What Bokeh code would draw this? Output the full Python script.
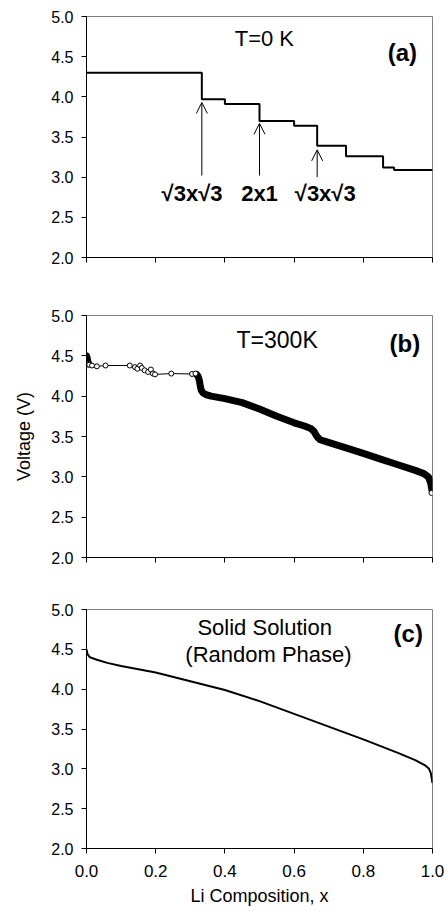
from bokeh.plotting import figure
from bokeh.layouts import column
from bokeh.models import (Label, Arrow, OpenHead, FixedTicker, Range1d,
                          ColumnDataSource, NumeralTickFormatter)
from bokeh.core.properties import value
from bokeh.embed import file_html
from bokeh.resources import INLINE

FONT = "Liberation Sans"

# ---------------- data ----------------
x_ticks = [0.0, 0.2, 0.4, 0.6, 0.8, 1.0]
y_ticks = [2.0, 2.5, 3.0, 3.5, 4.0, 4.5, 5.0]

# (a) T = 0 K : step voltage profile (x where each step starts, voltage)
a_x = [0.0, 1/3, 0.40, 0.50, 0.60, 2/3, 0.75, 6/7, 8/9, 1.0]
a_v = [4.30, 3.97, 3.91, 3.70, 3.64, 3.39, 3.26, 3.12, 3.09, 3.09]
arrow_x = [1/3, 0.5, 2/3]
arrow_tail = [3.02, 3.02, 3.00]
arrow_tip = [3.93, 3.67, 3.34]
phase_labels = ["\u221a3x\u221a3", "2x1", "\u221a3x\u221a3"]

# (b) T = 300 K : Monte Carlo points
b_start_x = [0.000, 0.002, 0.004, 0.006]
b_start_v = [4.50, 4.47, 4.43, 4.40]
b_sparse_x = [0.000, 0.008, 0.016, 0.030, 0.055, 0.125, 0.140, 0.147, 0.155,
              0.160, 0.168, 0.178, 0.186, 0.192, 0.198, 0.245, 0.305, 0.315]
b_sparse_v = [4.40, 4.39, 4.38, 4.37, 4.38, 4.38, 4.36, 4.34, 4.38,
              4.35, 4.32, 4.30, 4.33, 4.28, 4.27, 4.28, 4.275, 4.28]
b_dense_x = [0.318, 0.322, 0.326, 0.329, 0.332, 0.337, 0.345, 0.36, 0.40, 0.45,
             0.50, 0.55, 0.60, 0.63, 0.648, 0.658, 0.666, 0.675, 0.69, 0.75,
             0.80, 0.85, 0.90, 0.95, 0.975, 0.988, 0.995, 0.998]
b_dense_v = [4.27, 4.25, 4.20, 4.12, 4.07, 4.04, 4.02, 4.00, 3.97, 3.92,
             3.84, 3.75, 3.67, 3.63, 3.60, 3.56, 3.50, 3.46, 3.44, 3.36,
             3.29, 3.22, 3.15, 3.08, 3.04, 3.00, 2.92, 2.84]
b_end_x = [0.997]
b_end_v = [2.80]

# (c) solid solution (random phase)
c_x = [0.0, 0.003, 0.01, 0.03, 0.06, 0.10, 0.20, 0.30, 0.40, 0.50, 0.60,
       0.70, 0.80, 0.90, 0.95, 0.98, 0.99, 0.995, 1.0]
c_v = [4.50, 4.44, 4.40, 4.37, 4.33, 4.29, 4.21, 4.10, 3.99, 3.85, 3.69,
       3.53, 3.37, 3.20, 3.11, 3.04, 3.00, 2.95, 2.82]


def make_fig(height, top, bottom, xlabels=False, ylabel=None, xlabel=None):
    p = figure(width=448, height=height, x_range=Range1d(0, 1), y_range=Range1d(2, 5),
               output_backend="svg", toolbar_location=None,
               min_border_left=86, min_border_right=16,
               min_border_top=top, min_border_bottom=bottom)
    p.grid.visible = False
    p.outline_line_color = "#808080"
    p.outline_line_width = 1
    for ax in (p.xaxis[0], p.yaxis[0]):
        ax.axis_line_color = "black"
        ax.major_tick_line_color = "black"
        ax.major_tick_in = 0
        ax.major_tick_out = 5
        ax.minor_tick_line_color = None
        ax.major_label_text_font = FONT
        ax.major_label_text_color = "black"
        ax.axis_label_text_font = FONT
        ax.axis_label_text_font_style = "normal"
        ax.axis_label_text_color = "black"
        ax.axis_label_text_font_size = "18px"
        ax.formatter = NumeralTickFormatter(format="0.0")
    p.xaxis.ticker = FixedTicker(ticks=x_ticks, minor_ticks=[])
    p.yaxis.ticker = FixedTicker(ticks=y_ticks, minor_ticks=[])
    p.yaxis.major_label_text_font_size = "16px"
    p.yaxis.major_label_standoff = 8
    p.xaxis.major_label_text_font_size = "17px"
    if xlabels:
        p.xaxis.major_label_standoff = 11
    else:
        p.xaxis.major_label_standoff = 0
        p.xaxis.major_label_overrides = {t: "" for t in x_ticks}
    if ylabel:
        p.yaxis.axis_label = ylabel
        p.yaxis.axis_label_standoff = 14
    if xlabel:
        p.xaxis.axis_label = xlabel
        p.xaxis.axis_label_standoff = 6
    return p


def add_label(p, x, y, text, size, bold=False):
    p.add_layout(Label(x=x, y=y, text=text, text_font=FONT, text_font_size=size,
                       text_font_style="bold" if bold else "normal",
                       text_align="center", text_baseline="middle", text_color="black"))


# ---------------- panel (a) ----------------
pa = make_fig(286, 16, 29)
pa.step(a_x, a_v, mode="after", line_color="black", line_width=2)
arr_src = ColumnDataSource(dict(x=arrow_x, tail=arrow_tail, tip=arrow_tip))
pa.add_layout(Arrow(source=arr_src, x_start="x", y_start="tail", x_end="x", y_end="tip",
                    line_color="black", line_width=1,
                    end=OpenHead(size=11, line_color="black", line_width=1)))
pa.text(x=[0.305, 0.5, 0.69], y=[2.80, 2.80, 2.80], text=phase_labels,
        text_font=value(FONT), text_font_style="bold", text_font_size="22px",
        text_align="center", text_baseline="middle", text_color="black")
add_label(pa, 0.514, 4.72, "T=0 K", "22px")
add_label(pa, 0.913, 4.55, "(a)", "24px", bold=True)

# ---------------- panel (b) ----------------
pb = make_fig(300, 29, 29, ylabel="Voltage (V)")
all_x = b_start_x + b_sparse_x + b_dense_x + b_end_x
all_v = b_start_v + b_sparse_v + b_dense_v + b_end_v
pb.line(all_x, all_v, line_color="black", line_width=1)
pb.line(b_start_x, b_start_v, line_color="black", line_width=7,
        line_join="round", line_cap="round")
pb.line(b_dense_x, b_dense_v, line_color="black", line_width=7,
        line_join="round", line_cap="round")
pb.scatter(b_sparse_x + b_end_x, b_sparse_v + b_end_v, size=5,
           fill_color="white", line_color="black", line_width=1)
add_label(pb, 0.551, 4.70, "T=300K", "23px")
add_label(pb, 0.92, 4.65, "(b)", "24px", bold=True)

# ---------------- panel (c) ----------------
pc = make_fig(325, 23, 63, xlabels=True, xlabel="Li Composition, x")
pc.line(c_x, c_v, line_color="black", line_width=2, line_join="round")
add_label(pc, 0.515, 4.77, "Solid Solution", "22px")
add_label(pc, 0.526, 4.43, "(Random Phase)", "22px")
add_label(pc, 0.93, 4.70, "(c)", "24px", bold=True)

layout = column(pa, pb, pc, spacing=0)
open("out.html", "w").write(file_html(layout, INLINE))
